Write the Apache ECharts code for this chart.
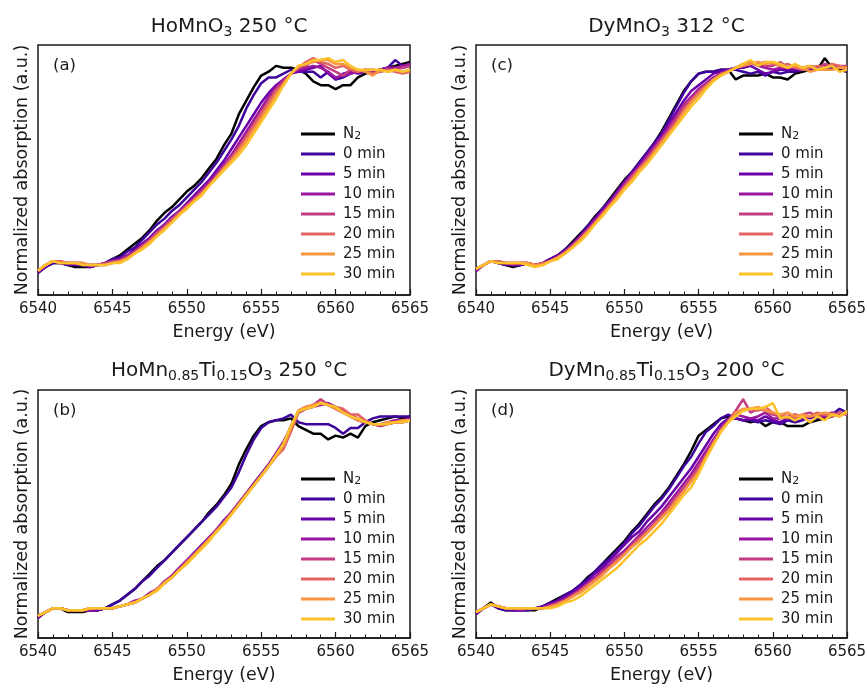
<!DOCTYPE html>
<html>
<head>
<meta charset="utf-8">
<script src="https://cdn.jsdelivr.net/npm/echarts@6/dist/echarts.min.js"></script>
<style>
  html, body { margin: 0; padding: 0; background: #fff; }
  #chart { width: 867px; height: 689px; }
</style>
</head>
<body>
<div id="chart"></div>
<script>
// photon energy (eV), 0.5 eV steps
const energy = [
  6540, 6540.5, 6541, 6541.5, 6542, 6542.5, 6543, 6543.5, 6544, 6544.5,
  6545, 6545.5, 6546, 6546.5, 6547, 6547.5, 6548, 6548.5, 6549, 6549.5,
  6550, 6550.5, 6551, 6551.5, 6552, 6552.5, 6553, 6553.5, 6554, 6554.5,
  6555, 6555.5, 6556, 6556.5, 6557, 6557.5, 6558, 6558.5, 6559, 6559.5,
  6560, 6560.5, 6561, 6561.5, 6562, 6562.5, 6563, 6563.5, 6564, 6564.5, 6565
];
const names = ['N2', '0 min', '5 min', '10 min', '15 min', '20 min', '25 min', '30 min'];
const colors = ['#000000', '#3e049c', '#6a00a8', '#9c179e', '#c33d80', '#e16462', '#f89540', '#fcc229'];
const xTicks = [6540, 6545, 6550, 6555, 6560, 6565];

// (a) HoMnO3 250 °C
const aN2 = [-0.04,-0.01,0.01,0.01,0.00,-0.01,-0.01,-0.01,0.00,0.01,
  0.03,0.05,0.08,0.11,0.14,0.18,0.23,0.27,0.30,0.34,0.38,0.41,0.45,0.50,0.55,0.62,0.68,0.78,0.85,0.92,0.98,1.00,1.03,1.02,1.02,
  1.01,0.99,0.95,0.93,0.93,0.91,0.93,0.93,0.97,0.99,1.00,1.01,1.02,1.03,1.04,1.05];
const a0 = [-0.04,-0.01,0.01,0.01,0.00,0.00,0.00,-0.01,0.00,0.01,
  0.03,0.04,0.07,0.09,0.13,0.17,0.21,0.24,0.28,0.31,0.35,0.39,0.43,0.48,0.53,0.59,0.65,0.72,0.81,0.88,0.94,0.97,0.97,0.99,1.01,
  1.00,1.00,1.00,0.97,1.00,0.96,0.97,0.99,1.00,1.00,1.00,1.01,1.02,1.06,1.03,1.04];
const a5 = [-0.04,-0.01,0.02,0.01,0.01,0.00,0.00,-0.01,0.00,0.01,
  0.02,0.03,0.05,0.08,0.11,0.14,0.18,0.21,0.25,0.28,0.32,0.36,0.40,0.44,0.49,0.54,0.60,0.66,0.72,0.78,0.84,0.89,0.93,0.96,0.99,
  1.00,1.01,1.02,1.03,0.99,0.96,0.99,1.00,0.99,1.00,1.00,1.01,1.01,1.02,1.02,1.03];
const a10 = [-0.03,0.00,0.02,0.01,0.01,0.01,0.00,0.00,0.00,0.01,
  0.02,0.03,0.05,0.07,0.10,0.13,0.17,0.21,0.24,0.28,0.31,0.35,0.39,0.43,0.47,0.52,0.57,0.63,0.69,0.75,0.81,0.87,0.92,0.96,0.99,
  1.01,1.02,1.03,1.02,1.00,0.97,0.98,0.99,1.00,1.01,1.00,1.01,1.02,1.02,1.03,1.04];
const a15 = [-0.03,0.00,0.02,0.02,0.01,0.01,0.01,0.00,0.00,0.01,
  0.02,0.02,0.04,0.07,0.10,0.13,0.17,0.20,0.24,0.27,0.31,0.34,0.38,0.42,0.46,0.51,0.56,0.61,0.67,0.73,0.79,0.85,0.91,0.95,0.99,
  1.02,1.03,1.06,1.04,1.02,1.00,0.98,1.01,1.00,1.01,1.01,1.00,1.01,1.01,1.02,1.03];
const a20 = [-0.03,0.00,0.02,0.02,0.01,0.01,0.01,0.00,0.00,0.00,
  0.01,0.02,0.04,0.06,0.09,0.12,0.16,0.19,0.23,0.27,0.30,0.34,0.37,0.41,0.46,0.50,0.55,0.60,0.66,0.72,0.78,0.84,0.90,0.94,0.99,
  1.02,1.05,1.07,1.05,1.04,1.02,1.03,1.01,1.00,1.01,0.99,1.00,1.01,1.00,0.99,1.00];
const a25 = [-0.03,0.00,0.02,0.01,0.01,0.01,0.01,0.00,0.00,0.00,
  0.01,0.02,0.03,0.06,0.09,0.12,0.15,0.19,0.22,0.26,0.30,0.33,0.37,0.41,0.45,0.50,0.54,0.59,0.64,0.70,0.76,0.82,0.88,0.93,0.99,
  1.03,1.04,1.05,1.06,1.06,1.04,1.04,1.02,1.01,1.00,0.98,1.01,1.00,1.01,1.00,1.01];
const a30 = [-0.03,0.00,0.02,0.01,0.01,0.01,0.00,0.00,0.00,0.00,
  0.01,0.01,0.03,0.06,0.08,0.11,0.15,0.18,0.22,0.26,0.29,0.33,0.36,0.41,0.45,0.49,0.53,0.57,0.62,0.68,0.74,0.80,0.86,0.93,0.99,
  1.03,1.04,1.06,1.06,1.07,1.05,1.06,1.03,1.01,1.01,1.01,1.01,1.00,1.01,1.00,1.01];

// (c) DyMnO3 312 °C
const cN2 = [-0.03,0.00,0.02,0.01,0.00,-0.01,0.00,0.01,0.00,
  0.01,0.03,0.05,0.08,0.12,0.16,0.20,0.25,0.29,0.34,0.39,0.44,0.48,0.53,0.58,0.63,0.69,0.76,0.83,0.90,0.95,0.99,1.00,1.00,1.01,1.01,
  0.96,0.98,0.98,0.98,0.99,0.97,0.97,0.96,0.99,1.00,1.01,1.01,1.07,1.02,1.01,1.00];
const c0 = [-0.03,0.00,0.02,0.01,0.00,0.00,0.00,0.01,0.00,
  0.01,0.03,0.05,0.08,0.11,0.15,0.20,0.24,0.29,0.33,0.38,0.43,0.48,0.53,0.58,0.63,0.68,0.75,0.82,0.89,0.95,0.99,1.00,1.00,1.01,1.01,
  1.01,1.00,0.99,1.00,0.98,1.00,0.99,1.00,1.00,1.01,1.01,1.02,1.02,1.02,1.03,1.00];
const c5 = [-0.03,0.00,0.02,0.01,0.01,0.00,0.00,0.01,0.00,
  0.01,0.03,0.05,0.07,0.11,0.15,0.19,0.24,0.28,0.33,0.38,0.43,0.47,0.52,0.57,0.62,0.67,0.73,0.79,0.85,0.90,0.93,0.96,0.99,1.00,1.01,
  1.02,1.02,1.03,1.01,0.99,1.00,1.01,1.01,1.01,1.01,1.01,1.02,1.02,1.03,1.02,1.01];
const c10 = [-0.03,0.00,0.02,0.02,0.01,0.00,0.01,0.01,0.00,
  0.01,0.02,0.04,0.07,0.10,0.14,0.18,0.23,0.27,0.32,0.37,0.42,0.47,0.51,0.56,0.61,0.66,0.72,0.77,0.83,0.87,0.91,0.94,0.97,0.99,1.01,
  1.02,1.03,1.05,1.03,1.02,1.01,1.02,1.02,1.02,1.02,1.02,1.02,1.03,1.03,1.02,1.02];
const c15 = [-0.02,0.00,0.02,0.02,0.01,0.01,0.01,0.01,0.00,
  0.01,0.02,0.04,0.07,0.10,0.14,0.18,0.22,0.27,0.31,0.36,0.41,0.46,0.50,0.55,0.60,0.65,0.70,0.76,0.82,0.86,0.90,0.93,0.96,0.99,1.00,
  1.02,1.04,1.04,1.04,1.03,1.03,1.05,1.02,1.03,1.02,1.03,1.02,1.04,1.03,1.03,1.03];
const c20 = [-0.02,0.00,0.02,0.02,0.01,0.01,0.01,0.01,0.00,
  0.01,0.02,0.04,0.06,0.10,0.13,0.17,0.22,0.26,0.31,0.35,0.40,0.45,0.50,0.54,0.59,0.64,0.69,0.74,0.80,0.85,0.89,0.93,0.96,0.99,1.00,
  1.02,1.03,1.05,1.04,1.05,1.04,1.03,1.04,1.02,1.01,1.02,1.03,1.02,1.04,1.03,1.02];
const c25 = [-0.02,0.00,0.02,0.01,0.01,0.01,0.01,0.01,0.00,
  0.00,0.02,0.04,0.06,0.09,0.13,0.17,0.21,0.26,0.30,0.35,0.40,0.44,0.49,0.53,0.58,0.63,0.68,0.73,0.79,0.84,0.88,0.92,0.96,0.98,1.00,
  1.02,1.03,1.04,1.05,1.04,1.05,1.03,1.02,1.03,1.02,1.00,1.01,1.01,1.01,1.02,1.02];
const c30 = [-0.02,0.00,0.02,0.01,0.01,0.01,0.01,0.00,-0.01,
  0.00,0.02,0.03,0.06,0.09,0.12,0.16,0.21,0.25,0.30,0.34,0.39,0.43,0.48,0.52,0.57,0.62,0.67,0.72,0.77,0.82,0.86,0.91,0.95,0.98,1.00,
  1.02,1.04,1.06,1.03,1.05,1.05,1.04,1.02,1.04,1.02,1.03,1.01,1.02,1.03,1.00,1.01];

// (b) HoMn0.85Ti0.15O3 250 °C
const bN2 = [-0.05,-0.02,0.00,0.00,-0.02,-0.02,-0.02,-0.01,-0.01,0.00,
  0.02,0.04,0.07,0.10,0.14,0.18,0.22,0.25,0.29,0.33,0.37,0.41,0.45,0.50,0.54,0.59,0.65,0.75,0.83,0.90,0.95,0.97,0.98,0.98,0.99,
  0.95,0.93,0.91,0.91,0.88,0.90,0.89,0.91,0.89,0.95,0.97,0.98,0.99,1.00,0.99,1.00];
const b0 = [-0.05,-0.02,0.00,0.00,-0.01,-0.01,-0.01,-0.01,-0.01,0.00,
  0.02,0.04,0.07,0.10,0.14,0.17,0.21,0.25,0.29,0.33,0.37,0.41,0.45,0.49,0.53,0.58,0.63,0.71,0.80,0.88,0.94,0.97,0.98,0.99,1.01,
  0.97,0.96,0.96,0.96,0.96,0.94,0.91,0.94,0.94,0.97,0.99,1.00,1.00,1.00,1.00,1.00];
const b5 = [-0.05,-0.02,0.00,0.00,-0.01,-0.01,-0.01,-0.01,-0.01,0.00,
  0.00,0.01,0.02,0.03,0.05,0.07,0.10,0.14,0.17,0.21,0.25,0.29,0.33,0.37,0.41,0.46,0.50,0.55,0.60,0.65,0.70,0.75,0.80,0.86,0.95,
  1.02,1.04,1.06,1.07,1.06,1.04,1.02,1.00,0.98,0.97,0.96,0.95,0.96,0.97,0.97,0.98];
const b10 = [-0.04,-0.02,0.00,0.00,-0.01,-0.01,-0.01,-0.01,0.00,0.00,
  0.00,0.01,0.02,0.04,0.05,0.08,0.10,0.13,0.17,0.21,0.25,0.28,0.32,0.37,0.41,0.45,0.50,0.55,0.60,0.65,0.70,0.75,0.81,0.87,0.94,
  1.03,1.04,1.05,1.06,1.07,1.05,1.03,1.00,0.99,0.97,0.96,0.96,0.97,0.98,0.98,0.99];
const b15 = [-0.04,-0.02,0.00,0.00,-0.01,-0.01,-0.01,0.00,0.00,0.00,
  0.00,0.01,0.02,0.03,0.05,0.07,0.10,0.14,0.17,0.20,0.24,0.28,0.32,0.36,0.41,0.45,0.50,0.55,0.60,0.64,0.69,0.74,0.80,0.85,0.93,
  1.03,1.05,1.06,1.09,1.06,1.05,1.03,1.01,0.99,0.97,0.96,0.95,0.96,0.97,0.98,0.98];
const b20 = [-0.04,-0.02,0.00,0.00,-0.01,-0.01,-0.01,0.00,0.00,0.00,
  0.00,0.01,0.02,0.03,0.05,0.07,0.10,0.13,0.16,0.20,0.24,0.28,0.32,0.36,0.40,0.45,0.49,0.54,0.59,0.64,0.69,0.74,0.79,0.83,0.92,
  1.02,1.04,1.05,1.07,1.06,1.05,1.04,1.01,1.01,0.98,0.96,0.96,0.96,0.97,0.97,0.98];
const b25 = [-0.04,-0.02,0.00,0.00,-0.01,-0.01,-0.01,0.00,0.00,0.00,
  0.00,0.01,0.02,0.03,0.05,0.07,0.10,0.13,0.16,0.20,0.24,0.28,0.32,0.36,0.40,0.44,0.49,0.54,0.59,0.64,0.69,0.74,0.79,0.85,0.94,
  1.03,1.05,1.06,1.07,1.06,1.04,1.02,1.00,0.98,0.97,0.96,0.96,0.97,0.97,0.98,0.98];
const b30 = [-0.04,-0.02,0.00,0.00,-0.01,-0.01,-0.01,0.00,0.00,0.00,
  0.00,0.01,0.02,0.03,0.05,0.07,0.09,0.13,0.16,0.20,0.23,0.27,0.31,0.35,0.40,0.44,0.49,0.54,0.59,0.64,0.69,0.74,0.80,0.86,0.95,
  1.03,1.04,1.05,1.07,1.06,1.05,1.02,1.00,0.99,0.97,0.96,0.96,0.96,0.97,0.97,0.98];

// (d) DyMn0.85Ti0.15O3 200 °C
const dN2 = [-0.03,0.00,0.03,0.00,-0.01,-0.01,-0.01,-0.01,-0.01,0.01,
  0.03,0.05,0.07,0.09,0.12,0.16,0.19,0.23,0.27,0.31,0.35,0.40,0.44,0.49,0.54,0.58,0.63,0.69,0.75,0.82,0.90,0.93,0.96,0.99,1.00,
  0.99,0.98,0.97,0.98,0.95,0.97,0.97,0.95,0.95,0.95,0.97,0.98,0.99,1.00,1.02,1.01];
const d0 = [-0.03,0.00,0.02,0.00,-0.01,-0.01,-0.01,-0.01,0.00,0.01,
  0.03,0.04,0.07,0.09,0.12,0.15,0.19,0.23,0.26,0.30,0.34,0.39,0.43,0.48,0.53,0.57,0.62,0.68,0.74,0.79,0.86,0.92,0.95,0.99,1.01,
  0.99,0.98,0.98,0.97,0.98,0.97,0.96,0.98,0.97,0.98,1.00,0.99,1.00,1.01,1.04,1.02];
const d5 = [-0.03,0.00,0.02,0.01,0.00,-0.01,-0.01,0.00,0.00,0.01,
  0.02,0.04,0.06,0.08,0.11,0.14,0.18,0.21,0.25,0.29,0.33,0.37,0.40,0.45,0.49,0.53,0.58,0.63,0.68,0.73,0.79,0.85,0.91,0.96,0.99,
  0.99,0.98,0.99,0.98,1.00,0.98,0.97,0.99,0.99,1.00,0.99,1.01,1.00,1.02,1.01,1.02];
const d10 = [-0.02,0.00,0.02,0.01,0.00,0.00,-0.01,0.00,0.00,0.00,
  0.02,0.03,0.05,0.07,0.10,0.13,0.16,0.20,0.23,0.27,0.30,0.34,0.38,0.42,0.46,0.50,0.55,0.60,0.65,0.70,0.76,0.82,0.88,0.94,0.98,
  1.01,1.00,0.99,1.00,1.02,0.99,0.99,1.00,1.01,0.99,1.00,1.01,1.00,1.00,1.02,1.01];
const d15 = [-0.02,0.00,0.02,0.01,0.00,0.00,0.00,0.00,0.00,0.00,
  0.01,0.03,0.04,0.07,0.09,0.12,0.15,0.19,0.22,0.26,0.29,0.33,0.37,0.40,0.44,0.49,0.53,0.58,0.63,0.68,0.74,0.80,0.87,0.93,0.98,
  1.03,1.09,1.02,1.04,1.03,1.01,1.00,1.02,0.99,1.01,1.02,1.00,1.01,1.02,1.01,1.02];
const d20 = [-0.02,0.00,0.02,0.01,0.00,0.00,0.00,0.00,0.00,0.00,
  0.01,0.02,0.04,0.06,0.09,0.12,0.15,0.18,0.21,0.25,0.28,0.32,0.36,0.39,0.43,0.48,0.51,0.57,0.61,0.67,0.72,0.79,0.86,0.93,0.97,
  1.02,1.03,1.04,1.03,1.05,1.02,1.01,0.99,1.01,1.00,1.00,1.02,1.01,1.00,1.02,1.01];
const d25 = [-0.02,0.00,0.02,0.01,0.00,0.00,0.00,0.00,0.00,0.00,
  0.01,0.02,0.04,0.06,0.08,0.11,0.14,0.17,0.21,0.24,0.28,0.32,0.35,0.39,0.43,0.47,0.51,0.56,0.61,0.66,0.71,0.79,0.86,0.92,0.97,
  1.02,1.04,1.04,1.05,1.03,1.02,1.01,1.02,1.00,1.01,1.00,1.01,1.02,1.01,1.00,1.02];
const d30 = [-0.02,0.00,0.02,0.01,0.00,0.00,0.00,0.00,0.00,0.00,
  0.00,0.01,0.03,0.04,0.06,0.09,0.12,0.15,0.18,0.21,0.25,0.29,0.33,0.36,0.40,0.44,0.49,0.54,0.59,0.63,0.70,0.78,0.85,0.92,0.97,
  1.00,1.03,1.04,1.04,1.05,1.07,0.99,1.00,0.98,1.00,0.97,1.00,0.98,1.01,1.00,1.03];

const panels = [
  { title: 'HoMnO{s|3} 250 °C', tag: '(a)', series: [aN2, a0, a5, a10, a15, a20, a25, a30], left: 38, top: 45, width: 372, height: 250 },
  { title: 'DyMnO{s|3} 312 °C', tag: '(c)', series: [cN2, c0, c5, c10, c15, c20, c25, c30], left: 476, top: 45, width: 371, height: 250 },
  { title: 'HoMn{s|0.85}Ti{s|0.15}O{s|3} 250 °C', tag: '(b)', series: [bN2, b0, b5, b10, b15, b20, b25, b30], left: 38, top: 390, width: 372, height: 248 },
  { title: 'DyMn{s|0.85}Ti{s|0.15}O{s|3} 200 °C', tag: '(d)', series: [dN2, d0, d5, d10, d15, d20, d25, d30], left: 476, top: 390, width: 371, height: 248 }
];

const font = 'DejaVu Sans';
const ink = '#1a1a1a';
const chart = echarts.init(document.getElementById('chart'));

let series = [];
panels.forEach((p, gi) => {
  p.series.forEach((vals, k) => {
    series.push({
      type: 'line',
      name: names[k],
      xAxisIndex: gi,
      yAxisIndex: gi,
      data: energy.map((e, i) => [e, vals[i]]),
      symbol: 'none',
      showSymbol: false,
      lineStyle: { width: 2.5, color: colors[k] },
      itemStyle: { color: colors[k] },
      z: 2 + k
    });
  });
});

const option = {
  animation: false,
  backgroundColor: '#fff',
  title: panels.map(p => ({
    text: p.title,
    left: p.left + p.width / 2,
    top: p.top > 100 ? 353 : 9,
    textAlign: 'center',
    textStyle: {
      fontFamily: font, fontSize: 20, fontWeight: 'normal', color: ink, lineHeight: 25,
      rich: { s: { fontFamily: font, fontSize: 14, color: ink, lineHeight: 15, verticalAlign: 'bottom' } }
    }
  })),
  graphic: panels.map(p => ({
    type: 'text', left: p.left + 15, top: p.top + 12, z: 50,
    style: { text: p.tag, font: '16.5px "DejaVu Sans"', fill: ink }
  })),
  legend: panels.map(p => ({
    data: names,
    orient: 'vertical',
    left: p.left + 258,
    top: p.top + 76,
    icon: 'rect',
    itemWidth: 34,
    itemHeight: 3,
    itemGap: 4,
    selectedMode: false,
    itemStyle: { borderWidth: 0 },
    formatter: n => (n === 'N2' ? 'N{s|2}' : n),
    textStyle: {
      fontFamily: font, fontSize: 15, color: ink, lineHeight: 16, padding: [0, 0, 0, 3],
      rich: { s: { fontFamily: font, fontSize: 11, color: ink, lineHeight: 16, verticalAlign: 'bottom' } }
    }
  })),
  grid: panels.map(p => ({
    left: p.left, top: p.top, width: p.width, height: p.height,
    show: true, borderColor: ink, borderWidth: 1.5, backgroundColor: 'transparent',
    containLabel: false, outerBoundsMode: 'none'
  })),
  xAxis: panels.map((p, gi) => ({
    gridIndex: gi,
    type: 'value',
    min: xTicks[0],
    max: xTicks[xTicks.length - 1],
    interval: 5,
    axisLine: { show: true, onZero: false, lineStyle: { color: ink, width: 1.5 } },
    axisTick: { show: true, inside: true, length: 6, lineStyle: { color: ink, width: 1.2 } },
    minorTick: { show: true, splitNumber: 5, length: 3.5, lineStyle: { color: ink, width: 1 } },
    splitLine: { show: false },
    axisLabel: { fontFamily: font, fontSize: 15, color: ink, margin: 7, formatter: v => String(v) },
    name: 'Energy (eV)',
    nameLocation: 'middle',
    nameGap: 28,
    nameTextStyle: { fontFamily: font, fontSize: 17.5, color: ink }
  })),
  yAxis: panels.map((p, gi) => ({
    gridIndex: gi,
    type: 'value',
    min: -0.155,
    max: 1.138,
    axisLine: { show: false, onZero: false },
    axisTick: { show: false },
    minorTick: { show: false },
    axisLabel: { show: false },
    splitLine: { show: false },
    name: 'Normalized absorption (a.u.)',
    nameLocation: 'middle',
    nameGap: 7,
    nameTextStyle: { fontFamily: font, fontSize: 17.5, color: ink }
  })),
  series: series
};

chart.setOption(option);
</script>
</body>
</html>
